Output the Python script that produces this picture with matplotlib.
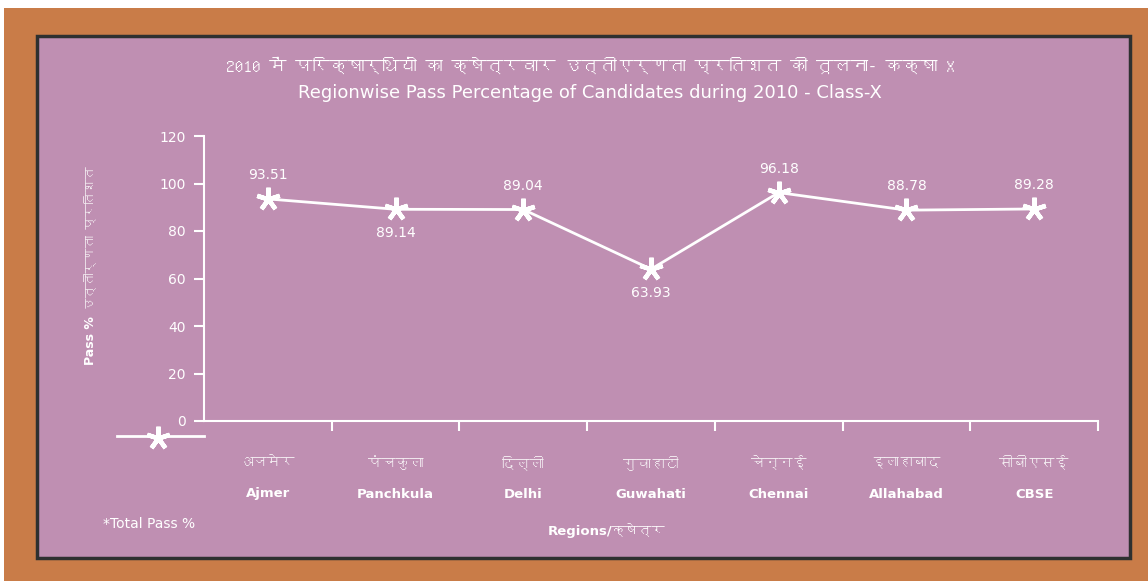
import matplotlib
matplotlib.use("Agg")
import matplotlib.pyplot as plt
from matplotlib import font_manager
from matplotlib.ft2font import FT2Font
from matplotlib.patches import Rectangle
from matplotlib.lines import Line2D

# data
regions_hi = ["अजमेर", "पंचकुला", "दिल्ली", "गुवाहाटी", "चेन्नई", "इलाहाबाद", "सीबीएसई"]
regions_en = ["Ajmer", "Panchkula", "Delhi", "Guwahati", "Chennai", "Allahabad", "CBSE"]
pass_pct = [93.51, 89.14, 89.04, 63.93, 96.18, 88.78, 89.28]
label_above = [True, False, True, False, True, True, True]
y_ticks = [0, 20, 40, 60, 80, 100, 120]


# look for any installed font that has Devanagari glyphs
def find_devanagari():
    for f in font_manager.fontManager.ttflist:
        try:
            if 0x0915 in FT2Font(f.fname).get_charmap():
                return f.name
        except Exception:
            pass
    return None


deva = find_devanagari()
fams = ["DejaVu Sans"] + ([deva] if deva else [])
hi_fams = ([deva] if deva else []) + ["DejaVu Sans"]
plt.rcParams["font.family"] = fams

W, H = 1148, 581
pink = "#bf8fb2"
wood = "#c97c48"
txt = "#ffffff"

fig = plt.figure(figsize=(W / 100, H / 100), dpi=100)
fig.patch.set_facecolor("white")

# wooden frame and board
fig.add_artist(Rectangle((4 / W, 0), 1 - 4 / W, 1 - 8 / H, transform=fig.transFigure,
                         facecolor=wood, edgecolor="none", zorder=0))
fig.add_artist(Rectangle((37 / W, 1 - 558 / H), (1130 - 37) / W, (558 - 36) / H,
                         transform=fig.transFigure, facecolor=pink,
                         edgecolor="#2e3030", linewidth=2.5, zorder=0))

ax = fig.add_axes([204 / W, 1 - 421 / H, (1098 - 204) / W, (421 - 136) / H])
ax.set_facecolor("none")

x = list(range(len(pass_pct)))
ax.plot(x, pass_pct, color="white", linewidth=2, marker=(5, 2, 0),
        markersize=17, markeredgewidth=3.2, markeredgecolor="white", zorder=3)

for xi, v, up in zip(x, pass_pct, label_above):
    ax.annotate(f"{v:.2f}", (xi, v), xytext=(0, 17 if up else -17),
                textcoords="offset pixels", ha="center",
                va="bottom" if up else "top", color=txt, fontsize=10)

ax.set_xlim(-0.5, len(x) - 0.5)
ax.set_ylim(0, 120)
ax.set_yticks(y_ticks)
ax.set_xticks([i + 0.5 for i in range(len(x))])
ax.set_xticklabels([])
ax.tick_params(axis="y", colors=txt, labelsize=10, length=7, width=1.5, pad=6)
ax.tick_params(axis="x", colors=txt, length=7, width=1.5)
for s in ["top", "right"]:
    ax.spines[s].set_visible(False)
for s in ["left", "bottom"]:
    ax.spines[s].set_color("white")
    ax.spines[s].set_linewidth(1.5)

# category labels
for xi, hi, en in zip(x, regions_hi, regions_en):
    ax.annotate(hi, (xi, 0), xytext=(0, -42), textcoords="offset pixels",
                ha="center", va="center", color="#f4eef2", fontsize=10, family=hi_fams)
    ax.annotate(en, (xi, 0), xytext=(0, -73), textcoords="offset pixels",
                ha="center", va="center", color=txt, fontsize=9.5, fontweight="bold")

# titles
fig.text(590 / W, 1 - 65 / H, "2010 में परिक्षार्थियों का क्षेत्रवार उत्तीएर्णता प्रतिशत की तूलना- कक्षा X",
         ha="center", va="center", color=txt, fontsize=12.5, fontweight="bold", family=hi_fams)
fig.text(590 / W, 1 - 93 / H, "Regionwise Pass Percentage of Candidates during 2010 - Class-X",
         ha="center", va="center", color=txt, fontsize=13)

# axis titles
fig.text(90 / W, 1 - 365 / H, "Pass %", rotation=90, ha="center", va="bottom",
         color=txt, fontsize=9, fontweight="bold")
fig.text(90 / W, 1 - 310 / H, "उत्तीर्णता प्रतिशत", rotation=90, ha="center", va="bottom",
         color="#f4eef2", fontsize=9, family=hi_fams)
fig.text(607 / W, 1 - 531 / H, "Regions/क्षेत्र", ha="center", va="center",
         color=txt, fontsize=9.5, fontweight="bold")

# legend key
ly = 1 - 436 / H
fig.add_artist(Line2D([117 / W, 204 / W], [ly, ly], color="white", linewidth=2))
fig.add_artist(Line2D([158 / W], [1 - 438 / H], color="white", marker=(5, 2, 0),
                      markersize=17, markeredgewidth=3.2, linestyle="none"))
fig.text(103 / W, 1 - 524 / H, "*Total Pass %", ha="left", va="center", color=txt, fontsize=10)

fig.savefig("out.png", dpi=100, facecolor=fig.get_facecolor())
